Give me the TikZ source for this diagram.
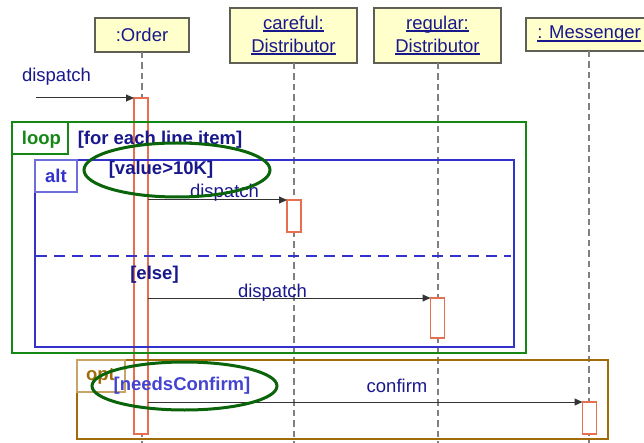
\documentclass[tikz,border=0pt]{standalone}
\usepackage{fontspec}
\setmainfont{Liberation Sans}
\usetikzlibrary{arrows.meta,shapes.geometric}
\definecolor{txtblue}{RGB}{24,24,140}
\definecolor{altblue}{RGB}{51,51,204}
\definecolor{condblue}{RGB}{68,68,210}
\definecolor{tabblue}{RGB}{110,110,220}
\definecolor{loopgreen}{RGB}{20,135,20}
\definecolor{ellgreen}{RGB}{10,100,10}
\definecolor{optbrown}{RGB}{160,108,10}
\definecolor{tabbrown}{RGB}{200,165,100}
\definecolor{actred}{RGB}{232,110,80}
\definecolor{hdrfill}{RGB}{255,255,204}
\definecolor{hdrline}{RGB}{95,95,85}
\newcommand\myul[1]{\setbox0=\hbox{#1}\rlap{\rule[-2.8pt]{\wd0}{1.7pt}}\box0}
\begin{document}
\begin{tikzpicture}[x=1pt,y=-1pt,
  every node/.style={font=\fontsize{18.5}{23}\selectfont, inner sep=0pt, outer sep=0pt},
  hdr/.style={draw=hdrline, line width=1.6pt, fill=hdrfill, text=txtblue, align=center},
  life/.style={draw=black!50, line width=2pt, dash pattern=on 6.5pt off 4pt},
  act/.style={draw=actred, line width=1.2pt, fill=white, minimum width=14pt, anchor=north},
  msg/.style={draw=black!80, line width=1pt, -{Triangle[length=8pt,width=7pt]}},
  lbl/.style={text=txtblue, anchor=base},
  cond/.style={text=txtblue, anchor=base, font=\fontsize{18.5}{23}\selectfont\bfseries},
  frame/.style={line width=2pt, anchor=north west},
  tab/.style={line width=1.3pt, anchor=north west, minimum height=32pt},
  ell/.style={draw=ellgreen, line width=3pt, ellipse}
]
\useasboundingbox (0,0) rectangle (644,443);
\clip (0,0) rectangle (644,443);
\coordinate (bot) at (0,443);
% headers
\node[hdr, minimum width=94pt, minimum height=34pt] (order) at (142,35) {:Order};
\node[hdr, minimum width=127pt, minimum height=55pt] (careful) at (293.5,35.5) {\myul{careful:}\\\myul{Distributor}};
\node[hdr, minimum width=127pt, minimum height=55pt] (regular) at (437.5,35.5) {\myul{regular:}\\\myul{Distributor}};
\node[hdr, minimum width=126pt, minimum height=33pt] (mess) at (589,34.5) {\myul{: Messenger}};
% lifelines
\draw[life] ([xshift=-0.5pt]order.south) -- ([xshift=-0.5pt]order.south |- bot);
\draw[life] (careful.south) -- (careful.south |- bot);
\draw[life] (regular.south) -- (regular.south |- bot);
\draw[life] (mess.south) -- (mess.south |- bot);
% activations
\node[act, minimum height=336pt] (ordAct) at (141,98) {};
\node[act, minimum height=32pt] (carAct) at (294,200) {};
\node[act, minimum height=40pt] (regAct) at (437.5,298) {};
\node[act, minimum height=32pt] (msgAct) at (589.5,402) {};
% frames
\node[frame, draw=loopgreen, minimum width=514pt, minimum height=231pt] (loop) at (12,122) {};
\node[tab, draw=loopgreen, minimum width=56pt] (looptab) at (12,122) {};
\node[frame, draw=altblue, minimum width=479pt, minimum height=187pt] (alt) at (35,160) {};
\node[tab, draw=tabblue, minimum width=42pt] (alttab) at (35,160) {};
\draw[altblue, line width=2.5pt, dash pattern=on 11pt off 7pt] (36,256) -- (511,256);
\node[frame, draw=optbrown, line width=2.5pt, minimum width=531pt, minimum height=79pt] (opt) at (77,360) {};
\node[tab, draw=tabbrown, minimum width=48pt] (opttab) at (77,360) {};
% messages
\coordinate (start) at (36,98);
\draw[msg] (start) -- (ordAct.north west);
\draw[msg] (ordAct.east |- carAct.north west) -- (carAct.north west);
\draw[msg] (ordAct.east |- regAct.north west) -- (regAct.north west);
\draw[msg] (ordAct.east |- msgAct.north west) -- (msgAct.north west);
% labels
\node[lbl] (l0) at (56.5,82) {dispatch};
\node[lbl] (l1) at (224.5,198) {dispatch};
\node[lbl] (l2) at (272.5,297) {dispatch};
\node[lbl] (l3) at (397,392) {confirm};
\node[cond, text=loopgreen] (tloop) at (41.5,145) {loop};
\node[cond] (tfor) at (160,145) {[for each line item]};
\node[cond, text=altblue] (talt) at (56,183) {alt};
\node[cond] (tval) at (161,175) {[value>10K]};
\node[cond] (telse) at (154.5,279) {[else]};
\node[cond, text=optbrown] (topt) at (100.5,380) {opt};
\node[cond, text=condblue] (tneed) at (182,390) {[needsConfirm]};
% ellipses
\node[ell, minimum width=186pt, minimum height=54pt] (e1) at (177,170) {};
\node[ell, minimum width=185pt, minimum height=48pt] (e2) at (184.5,386) {};
\end{tikzpicture}
\end{document}
